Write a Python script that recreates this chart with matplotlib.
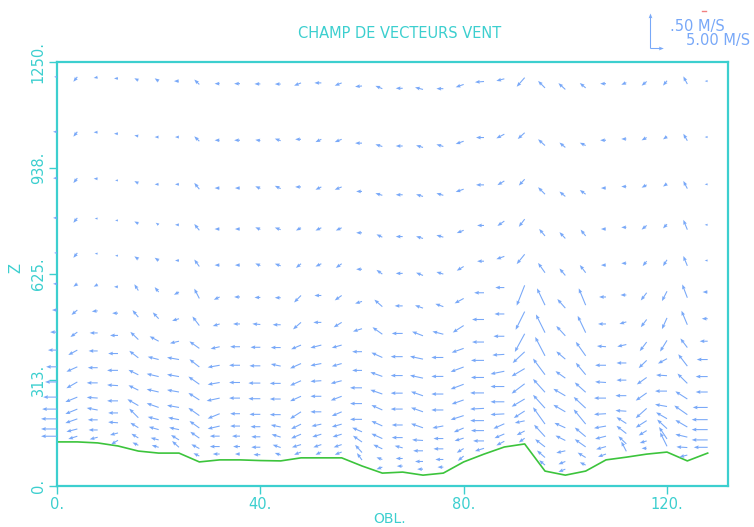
import numpy as np
import matplotlib
matplotlib.use("Agg")
import matplotlib.pyplot as plt

# horizontal grid (OBL.) and terrain height under each column (m)
x_obl = np.arange(0, 129, 4)
terrain = [130, 130, 127, 118, 103, 97, 97, 71, 77, 77, 75, 74, 83, 83, 83, 59, 38,
           41, 32, 38, 71, 94, 115, 124, 44, 32, 44, 77, 85, 94, 100, 74, 97]

# terrain-following levels (m above ground for zs = 0), model top
sigma = [1157, 983, 836, 710, 599, 501, 418, 348, 291, 238, 190, 142, 104, 73, 41, 18]
ztop = 1860.

# horizontal wind (m/s), one row per level, top level first
u = [
    [-1.1,-1.5,-1.5,-1.5,-1.5,-1.5,-1.9,-1.9,-1.9,-2.2,-2.2,-2.2,-2.6,-2.6,-2.6,-2.6,-2.6,-2.6,-3.0,-2.6,-3.0,-3.4,-3.0,-3.0,-2.6,-2.6,-2.2,-2.2,-1.9,-1.9,-1.5,-1.5,-1.1],
    [-1.5,-1.5,-1.5,-1.5,-1.5,-1.5,-1.5,-1.9,-1.9,-2.2,-1.9,-2.2,-2.2,-2.2,-2.6,-2.6,-2.6,-2.6,-2.6,-2.6,-3.0,-3.0,-3.0,-2.6,-2.6,-2.2,-2.2,-2.2,-1.9,-1.9,-1.5,-1.5,-1.1],
    [-1.5,-1.5,-1.5,-1.1,-1.5,-1.5,-1.5,-1.9,-1.9,-1.9,-1.9,-2.2,-2.2,-2.2,-2.6,-2.2,-2.6,-2.6,-2.6,-2.6,-3.0,-3.0,-2.6,-2.2,-2.6,-2.2,-2.2,-1.9,-1.9,-1.9,-1.5,-1.5,-1.1],
    [-1.5,-1.5,-1.1,-1.1,-1.5,-1.1,-1.5,-1.9,-1.9,-1.9,-1.9,-2.2,-1.9,-2.2,-2.2,-2.2,-2.2,-2.6,-2.6,-2.6,-2.6,-2.6,-2.6,-2.2,-2.2,-2.2,-1.9,-1.9,-1.9,-1.9,-1.5,-1.5,-1.1],
    [-1.1,-1.5,-1.1,-1.1,-1.5,-1.5,-1.5,-1.9,-1.9,-1.9,-1.9,-2.2,-1.9,-2.2,-2.2,-2.2,-2.2,-2.6,-2.6,-2.6,-2.6,-2.6,-3.0,-3.0,-2.6,-2.2,-2.2,-1.9,-1.9,-1.5,-1.5,-1.5,-1.1],
    [-1.5,-1.5,-1.5,-1.5,-1.5,-1.5,-1.9,-1.9,-2.2,-2.2,-2.2,-2.2,-2.6,-2.6,-2.6,-2.6,-3.0,-3.0,-3.0,-3.0,-3.4,-3.7,-3.4,-3.0,-3.0,-3.0,-2.6,-2.6,-2.2,-2.2,-1.9,-1.9,-1.9],
    [-1.9,-2.2,-2.2,-2.2,-2.2,-2.2,-2.6,-2.6,-2.6,-2.6,-3.0,-3.0,-3.0,-3.0,-3.0,-3.4,-3.7,-4.1,-4.1,-4.1,-4.1,-4.5,-3.7,-3.4,-3.4,-3.4,-3.0,-3.0,-2.6,-2.2,-1.9,-2.2,-2.2],
    [-2.6,-2.6,-3.0,-3.0,-3.0,-3.4,-3.4,-3.7,-3.4,-3.7,-3.7,-3.7,-3.7,-4.1,-3.7,-3.7,-4.1,-4.5,-4.9,-4.5,-4.5,-4.5,-4.1,-3.7,-3.7,-3.4,-3.7,-3.4,-3.4,-2.6,-2.6,-2.6,-3.0],
    [-3.4,-3.4,-3.4,-3.7,-3.4,-4.1,-4.5,-3.7,-4.5,-4.1,-4.1,-3.7,-4.1,-4.1,-3.7,-3.7,-4.5,-4.5,-4.9,-4.5,-4.9,-4.9,-4.5,-4.5,-4.5,-3.7,-3.7,-4.1,-3.7,-3.0,-3.4,-3.4,-4.1],
    [-4.1,-4.1,-3.7,-4.1,-3.7,-4.5,-4.5,-4.1,-4.5,-4.1,-4.5,-4.1,-4.1,-4.1,-4.1,-4.5,-4.5,-4.5,-4.5,-4.5,-4.9,-4.9,-5.2,-4.9,-4.5,-4.5,-4.1,-4.1,-3.7,-3.7,-4.1,-3.7,-4.5],
    [-4.5,-4.1,-4.1,-4.1,-3.7,-4.5,-4.5,-4.1,-4.9,-4.1,-4.5,-4.1,-4.1,-4.1,-4.1,-4.5,-4.1,-4.5,-4.5,-4.5,-4.5,-5.2,-5.2,-4.9,-4.5,-4.5,-4.5,-4.5,-4.1,-4.1,-4.5,-4.5,-4.5],
    [-5.2,-4.5,-4.1,-4.1,-4.1,-4.5,-4.5,-4.1,-4.5,-3.7,-4.1,-4.1,-4.1,-4.1,-3.7,-4.5,-4.1,-4.1,-4.5,-4.1,-4.9,-5.2,-5.2,-4.9,-4.5,-4.1,-4.5,-4.5,-4.1,-4.1,-4.5,-4.9,-5.6],
    [-5.6,-4.5,-4.1,-3.7,-3.4,-4.1,-4.1,-3.7,-4.5,-3.7,-3.7,-3.7,-3.7,-3.7,-3.7,-3.7,-4.1,-4.1,-4.1,-3.7,-3.7,-5.2,-5.2,-4.1,-4.1,-3.7,-4.1,-4.5,-3.7,-4.1,-4.1,-4.5,-6.0],
    [-6.0,-4.5,-3.7,-3.7,-3.0,-3.7,-3.7,-3.4,-3.7,-3.0,-3.4,-3.4,-3.7,-3.4,-3.4,-3.4,-3.4,-3.0,-3.7,-3.7,-3.4,-4.9,-4.1,-3.7,-3.7,-3.4,-4.1,-4.1,-3.7,-3.0,-3.7,-4.5,-6.0],
    [-6.0,-4.1,-3.4,-3.0,-2.6,-3.0,-3.0,-3.0,-3.7,-2.6,-3.4,-3.0,-3.4,-3.0,-3.0,-2.6,-2.2,-2.6,-3.0,-3.0,-2.6,-4.1,-3.7,-3.0,-3.0,-2.6,-3.0,-3.7,-3.0,-2.6,-3.0,-4.1,-6.0],
    [-6.0,-3.4,-3.0,-2.6,-2.2,-2.6,-2.6,-2.2,-2.6,-1.9,-2.6,-2.2,-2.6,-2.2,-2.6,-1.9,-2.2,-2.2,-2.2,-2.2,-2.2,-3.4,-3.0,-2.2,-2.2,-2.6,-2.2,-3.0,-1.9,-1.9,-2.6,-3.0,-5.2],
]

# vertical wind (m/s), same layout
w = [
    [0,-.07,-.01,0,.03,.04,0,.07,0,0,0,0,-.04,0,-.04,-.01,.04,0,.03,0,-.04,-.01,-.03,-.13,.10,.09,.07,0,-.03,-.06,-.07,.11,0],
    [0,-.07,0,0,.01,0,0,.07,0,0,.01,.03,0,-.04,-.04,0,.03,0,.03,.03,-.04,0,-.06,-.09,.09,.07,.04,0,0,-.04,-.04,.10,0],
    [0,-.07,0,0,.03,0,0,.09,0,0,.03,.04,0,-.04,-.04,0,.03,0,.03,.03,-.04,0,-.06,-.09,.10,.07,.06,0,0,-.04,-.04,.11,0],
    [0,-.07,0,0,.03,.03,0,.09,0,0,.03,.03,-.04,-.04,-.04,0,.04,0,.03,.03,-.04,0,-.07,-.11,.10,.09,.09,0,0,-.06,-.06,.14,0],
    [0,-.07,0,0,.04,.04,0,.10,0,0,.03,.03,-.06,-.04,-.06,0,.06,0,.04,.03,-.06,0,-.04,-.14,.14,.10,.11,0,0,-.07,-.09,.14,0],
    [0,-.04,-.03,0,.09,.07,-.04,.14,-.04,0,0,0,-.10,0,-.07,-.03,.10,0,.04,.04,-.07,0,0,-.29,.24,.13,.24,0,0,-.11,-.14,.19,0],
    [0,-.07,-.01,0,.10,.09,-.03,.13,-.03,0,.01,0,-.10,0,-.07,-.04,.10,0,.06,.04,-.10,0,0,-.26,.26,.14,.24,0,-.03,-.11,-.16,.20,0],
    [0,-.07,0,0,.11,.07,-.03,.10,-.03,0,0,0,-.06,-.04,-.04,0,.07,0,.04,0,-.06,0,0,-.26,.27,.11,.20,.01,-.03,-.13,-.16,.13,0],
    [0,-.07,0,0,.10,.04,.03,.11,-.03,0,0,.03,-.07,-.03,-.04,0,.06,0,.04,0,-.07,0,-.01,-.16,.23,.10,.17,0,0,-.11,-.07,.17,0],
    [0,-.07,0,0,.07,.04,.03,.11,-.03,0,0,0,-.07,-.01,-.04,0,.06,0,.06,0,-.07,0,-.04,-.11,.19,.10,.14,.01,0,-.10,.01,.14,0],
    [0,-.09,0,.01,.07,.04,.03,.10,-.04,0,0,0,-.07,0,-.06,0,.07,0,.06,0,-.06,0,0,-.14,.19,.10,.16,0,0,-.11,0,.11,0],
    [0,-.07,.01,0,.09,.06,.03,.11,-.07,0,0,0,-.10,0,-.06,0,.07,0,.06,-.03,-.06,-.01,0,-.11,.24,.07,.21,-.01,.01,-.14,.03,.13,0],
    [0,-.07,.03,0,.13,.04,.03,.10,-.04,0,0,.03,-.07,-.03,-.04,.06,.07,0,.01,0,-.06,0,-.01,-.10,.17,.07,.13,-.03,.09,-.10,.09,.10,0],
    [0,-.06,0,.01,.07,.04,.03,.09,0,0,0,.04,-.06,-.04,-.04,.09,.06,.03,0,0,-.04,0,-.07,-.03,.11,-.03,.11,-.04,.11,-.07,.13,.04,0],
    [0,-.04,0,-.03,.06,.03,.07,.06,0,0,0,.04,-.04,-.04,-.04,.11,.03,0,0,0,-.06,0,-.06,-.06,.10,-.04,.07,-.04,.11,-.03,.17,.01,0],
    [0,-.04,-.03,-.06,.04,.03,.09,.04,0,0,0,.03,-.04,-.04,-.04,.10,-.03,0,0,0,-.07,-.04,-.06,-.06,.07,-.04,.04,-.04,.14,0,.20,-.03,0],
]

yticks = [0, 313, 625, 938, 1250]
ytick_labels = ['0.', '313.', '625.', '938.', '1250.']
xticks = [0, 40, 80, 120]
xtick_labels = ['0.', '40.', '80.', '120.']

# reference vectors: 5 m/s horizontal, .5 m/s vertical, and their length in pixels
href, vref = 5.0, 0.5
hlen, vlen = 13.3, 35.0

teal = '#3ccfcf'
blue = '#78a8f8'
green = '#3cc43c'

fig = plt.figure(figsize=(7.54, 5.27), dpi=100)
ax = fig.add_axes([57/754, 41/527, 671/754, 424/527])
ax.set_xlim(0, 132)
ax.set_ylim(0, 1250)

zs = np.array(terrain, dtype=float)
X, S = np.meshgrid(x_obl, np.array(sigma, dtype=float))
Z = zs + S * (1 - zs / ztop)

U = np.array(u) * hlen / href
V = np.array(w) * vlen / vref

q = ax.quiver(X, Z, U, V, angles='uv', scale_units='dots', scale=1,
              pivot='tail', color=blue, width=0.0016, headwidth=3.5,
              headlength=4.5, headaxislength=4, zorder=3)
q.set_clip_on(False)

ax.plot(x_obl, terrain, color=green, lw=1.2, zorder=2)

for sp in ax.spines.values():
    sp.set_color(teal)
    sp.set_linewidth(1.6)

ax.set_xticks(xticks)
ax.set_xticklabels(xtick_labels)
ax.set_yticks(yticks)
ax.set_yticklabels(ytick_labels, rotation=90, va='center')
ax.tick_params(axis='both', direction='out', length=6, width=1, color=teal,
               labelcolor=teal, labelsize=10.5)
ax.tick_params(axis='x', pad=2)
ax.tick_params(axis='y', pad=2)

ax.set_xlabel('OBL.', color=teal, fontsize=10)
ax.xaxis.set_label_coords((390 - 57) / 671, (486 - 512) / 424)
ax.set_ylabel('Z', color=teal, fontsize=10.5)
ax.yaxis.set_label_coords((23 - 57) / 671, (486 - 268) / 424)

fig.text(400/754, 1 - 33/527, 'CHAMP DE VECTEURS VENT', color=teal,
         fontsize=10.5, ha='center', va='center')

# reference arrows in the upper right corner
ax.quiverkey(q, 650/754, 1 - 48/527, hlen, '', coordinates='figure',
             labelpos='W', color=blue)
ax.quiverkey(q, 650/754, 1 - 48/527, vlen, '', coordinates='figure',
             labelpos='W', angle=90, color=blue)
fig.text(670/754, 1 - 27/527, '.50 M/S', color=blue, fontsize=10.5,
         ha='left', va='center')
fig.text(686/754, 1 - 41/527, '5.00 M/S', color=blue, fontsize=10.5,
         ha='left', va='center')
fig.add_artist(plt.Line2D([702/754, 706/754], [1 - 11/527, 1 - 11/527],
                          color='#f08080', lw=1))

fig.savefig('out.png', dpi=100)
